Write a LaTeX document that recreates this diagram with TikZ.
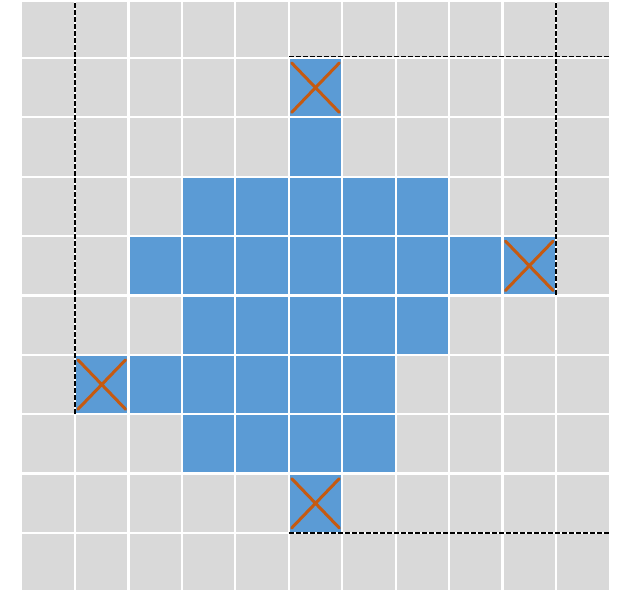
\documentclass[tikz,border=0pt]{standalone}
\usepackage{tikz}
\definecolor{CellGray}{RGB}{217, 217, 217}
\definecolor{CellBlue}{RGB}{91, 155, 213}
\definecolor{MarkOrange}{RGB}{197, 90, 17}
\tikzstyle{gridline} = [white, line width=2.2pt]
\tikzstyle{cross} = [MarkOrange, line width=3pt, line cap=round]
\tikzstyle{boxline} = [black, line width=1.6pt, dash pattern=on 5pt off 2pt]

\begin{document}
\begin{tikzpicture}[x=53.44pt, y=-59.375pt]

\useasboundingbox (-0.404,0.0236) rectangle (11.254,9.96);

\begin{scope}
    \clip (0,0.074) rectangle (11,9.96);

    % Background cells
    \fill[CellGray] (0,0) rectangle (11,10);

    % Occupied cells, one run per row
    \foreach \r/\a/\b in {1/5/5, 2/5/5, 3/3/7, 4/2/9, 5/3/7, 6/1/6, 7/3/6, 8/5/5}
        \fill[CellBlue] (\a,\r) rectangle (\b+1,\r+1);

    % Grid
    \foreach \i in {1,...,10}
        \draw[gridline] (\i,0) -- (\i,10);
    \foreach \j in {1,...,9}
        \draw[gridline] (0,\j) -- (11,\j);

    % Extreme cells
    \foreach \c/\r in {5/1, 9/4, 1/6, 5/8}
        \draw[cross] (\c+0.054,\r+0.084) -- (\c+0.946,\r+0.916)
                     (\c+0.054,\r+0.916) -- (\c+0.946,\r+0.084);

    % Bounding lines
    \draw[boxline] (1,0.074) -- (1,7);
    \draw[boxline] (10,0.074) -- (10,5);
    \draw[boxline] (5,0.975) -- (11,0.975);
    \draw[boxline] (5,9) -- (11,9);
\end{scope}

\end{tikzpicture}
\end{document}
